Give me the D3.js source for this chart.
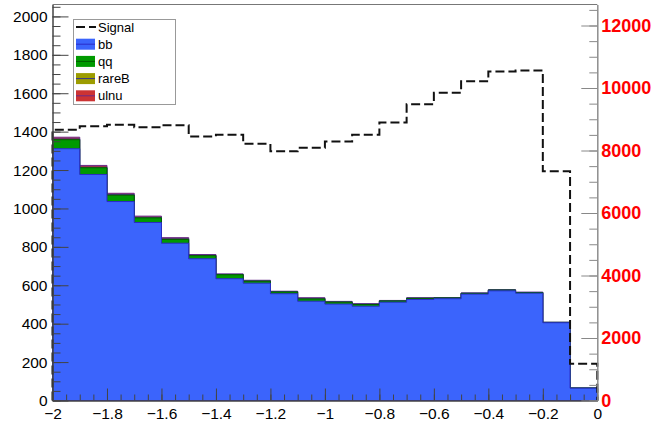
<!DOCTYPE html>
<html>
<head>
<meta charset="utf-8">
<script src="https://cdn.jsdelivr.net/npm/d3@7"></script>
<style>
  body { margin: 0; background: #fff; }
  svg { display: block; font-family: "Liberation Sans", Arial, sans-serif; }
</style>
</head>
<body>
<svg width="656" height="424"></svg>
<script>
// bin lower edges, width 0.1
var binLo = [-2, -1.9, -1.8, -1.7, -1.6, -1.5, -1.4, -1.3, -1.2, -1.1,
             -1, -0.9, -0.8, -0.7, -0.6, -0.5, -0.4, -0.3, -0.2, -0.1];
var bb    = [1311, 1177, 1036, 927, 819, 738, 634, 611, 556, 517,
             502, 491, 512, 526, 530, 554, 571, 559, 405, 64];
var qq    = [47, 35, 33, 24, 20, 16, 21, 10, 9, 12, 10, 9, 6, 6, 4, 4, 4, 3, 2, 1];
var rareB = [4, 3, 3, 3, 3, 2, 2, 2, 2, 3, 2, 2, 1, 1, 1, 1, 1, 1, 0, 0];
var ulnu  = [9, 9, 7, 6, 6, 4, 2, 3, 2, 3, 2, 2, 2, 2, 1, 1, 1, 1, 0, 0];
var signal = [8662, 8778, 8821, 8746, 8810, 8448, 8502, 8214, 7978, 8086,
              8288, 8502, 8896, 9482, 9846, 10218, 10528, 10560, 7338, 1174];

var xTicks = [-2, -1.8, -1.6, -1.4, -1.2, -1, -0.8, -0.6, -0.4, -0.2, 0];
var xTickLabels = ["\u22122", "\u22121.8", "\u22121.6", "\u22121.4", "\u22121.2", "\u22121",
                   "\u22120.8", "\u22120.6", "\u22120.4", "\u22120.2", "0"];
var leftTicks = [0, 200, 400, 600, 800, 1000, 1200, 1400, 1600, 1800, 2000];
var rightTicks = [0, 2000, 4000, 6000, 8000, 10000, 12000];

var layers = [
  {name: "bb",    vals: bb,    fill: "#3b64fc", line: "#2b2bc8"},
  {name: "qq",    vals: qq,    fill: "#009a00", line: "#005c00"},
  {name: "rareB", vals: rareB, fill: "#9c9c00", line: "#33338f"},
  {name: "ulnu",  vals: ulnu,  fill: "#cc3333", line: "#6a2a8a"}
];

var frame = {l: 52.5, r: 597.3, t: 4.5, b: 400.5};

var svg = d3.select("svg");

var x = d3.scaleLinear().domain([-2, 0]).range([frame.l, frame.r]);
var y = d3.scaleLinear().domain([0, 2062]).range([frame.b, frame.t]);
var y2 = d3.scaleLinear().domain([0, 12672]).range([frame.b, frame.t]);

// stacked sums
var cum = binLo.map(function() { return 0; });
layers.forEach(function(l) {
  l.sum = l.vals.map(function(v, i) { cum[i] += v; return cum[i]; });
});

function stepPoints(vals) {
  var pts = binLo.map(function(b, i) { return [b, vals[i]]; });
  pts.push([0, vals[vals.length - 1]]);
  return pts;
}

var area = d3.area()
  .x(function(d) { return x(d[0]); })
  .y0(y(0))
  .y1(function(d) { return y(d[1]); })
  .curve(d3.curveStepAfter);

// draw largest sum first, so lower layers cover it
layers.slice().reverse().forEach(function(l) {
  svg.append("path")
    .attr("d", area(stepPoints(l.sum)))
    .attr("fill", l.fill)
    .attr("stroke", l.line)
    .attr("stroke-width", 1);
});

// signal (right axis)
var sigPts = [[-2, 0]].concat(stepPoints(signal)).concat([[0, 0]]);
var line = d3.line()
  .x(function(d) { return x(d[0]); })
  .y(function(d) { return y2(d[1]); })
  .curve(d3.curveStepAfter);

svg.append("path")
  .attr("d", line(sigPts))
  .attr("fill", "none")
  .attr("stroke", "#111")
  .attr("stroke-width", 2)
  .attr("stroke-dasharray", "9,4");

// frame top
svg.append("line")
  .attr("x1", frame.l).attr("x2", frame.r).attr("y1", frame.t).attr("y2", frame.t)
  .attr("stroke", "#777");

// left axis
var gl = svg.append("g").attr("transform", "translate(" + frame.l + ",0)");
gl.call(d3.axisLeft(y).tickValues(d3.range(0, 2051, 50)).tickFormat("")
  .tickSizeInner(-8).tickSizeOuter(0));
gl.append("g").call(d3.axisLeft(y).tickValues(leftTicks)
  .tickFormat(d3.format("d"))
  .tickSizeInner(-16).tickSizeOuter(0).tickPadding(5));
gl.selectAll("text").attr("font-size", "15.5px").attr("fill", "#000")
  .attr("font-family", "Liberation Sans, Arial, sans-serif");
gl.selectAll("line, path").attr("stroke", "#444");

// bottom axis
var gb = svg.append("g").attr("transform", "translate(0," + frame.b + ")");
gb.call(d3.axisBottom(x).tickValues(d3.range(0, 41).map(function(i) { return -2 + i * 0.05; }))
  .tickFormat("").tickSizeInner(-6).tickSizeOuter(0));
gb.append("g").call(d3.axisBottom(x).tickValues(xTicks)
  .tickFormat(function(d, i) { return xTickLabels[i]; })
  .tickSizeInner(-12).tickSizeOuter(0).tickPadding(7));
gb.selectAll("text").attr("font-size", "15.5px").attr("fill", "#000")
  .attr("font-family", "Liberation Sans, Arial, sans-serif");
gb.selectAll("line, path").attr("stroke", "#444");

// right axis
var gr = svg.append("g").attr("transform", "translate(" + frame.r + ",0)");
gr.call(d3.axisRight(y2).tickValues(d3.range(0, 12601, 500)).tickFormat("")
  .tickSizeInner(-8).tickSizeOuter(0));
gr.append("g").call(d3.axisRight(y2).tickValues(rightTicks)
  .tickFormat(d3.format("d"))
  .tickSizeInner(-16).tickSizeOuter(0).tickPadding(4));
gr.selectAll("text").attr("font-size", "18px").attr("font-weight", "bold")
  .attr("fill", "#ff0000").attr("font-family", "Liberation Sans, Arial, sans-serif");
gr.selectAll("line, path").attr("stroke", "#888");

// legend
var lg = svg.append("g");
lg.append("rect")
  .attr("x", 73.5).attr("y", 19.5).attr("width", 102).attr("height", 85)
  .attr("fill", "#fff").attr("stroke", "#999");

var entries = [{name: "Signal"}].concat(layers);
entries.forEach(function(e, i) {
  var cy = 27 + i * 17.2;
  if (e.name === "Signal") {
    lg.append("line")
      .attr("x1", 76).attr("x2", 96).attr("y1", cy).attr("y2", cy)
      .attr("stroke", "#111").attr("stroke-width", 2)
      .attr("stroke-dasharray", "9,4");
  } else {
    lg.append("rect")
      .attr("x", 76).attr("y", cy - 5.5).attr("width", 19).attr("height", 11)
      .attr("fill", e.fill);
    lg.append("line")
      .attr("x1", 76).attr("x2", 95).attr("y1", cy).attr("y2", cy)
      .attr("stroke", e.line).attr("stroke-width", 1);
  }
  lg.append("text")
    .attr("x", 98).attr("y", cy).attr("dy", "0.35em")
    .attr("font-size", "13px")
    .text(e.name);
});
</script>
</body>
</html>
